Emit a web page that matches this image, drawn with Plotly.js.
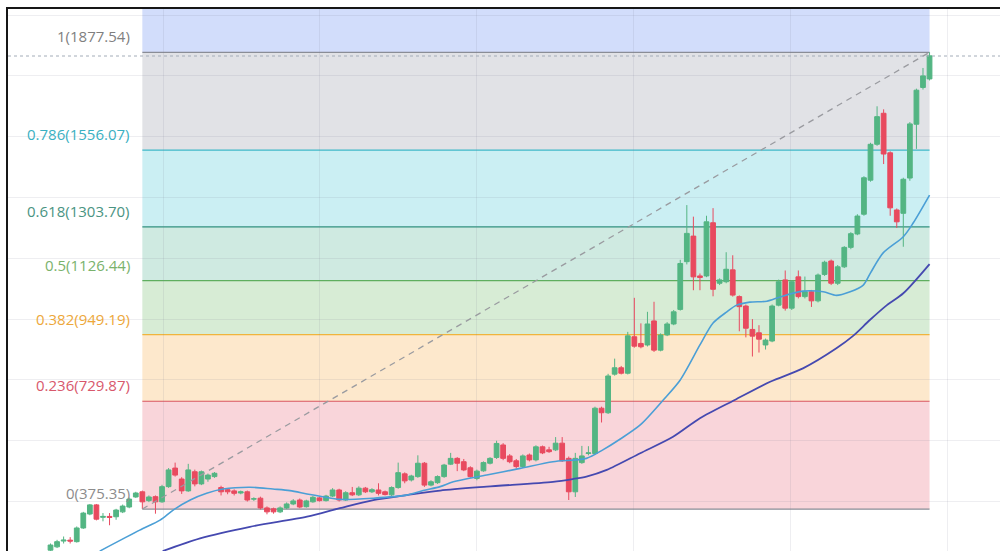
<!DOCTYPE html>
<html>
<head>
<meta charset="utf-8">
<script src="https://cdn.plot.ly/plotly-3.0.1.min.js"></script>
<style>
html,body{margin:0;padding:0;background:#fff;}
#chart{width:1000px;height:551px;}
</style>
</head>
<body>
<div id="chart"></div>
<script>
// ---- candle data (index = bar number) ----
const opens = [240,251,270,273,268,313,359,389,348,351,350,366,382,415,432,403,416,399,449,510,
474,435,498,458,474,482,446,439,435,428,432,408,411,379,376,366,379,392,405,383,
399,412,403,418,438,405,429,422,444,432,438,432,422,446,491,471,482,526,454,462,
482,523,542,531,511,476,501,526,545,586,550,534,515,553,537,580,570,570,592,542,
432,528,558,558,707,692,819,840,822,942,920,915,994,898,948,984,1032,1189,1273,1142,
1142,1317,1118,1123,1162,1074,1043,966,955,915,928,1046,1129,1036,1139,1074,1090,1060,1147,1191,
1118,1172,1236,1280,1345,1457,1575,1677,1547,1359,1348,1464,1641,1762,1790];
const highs = [262,274,285,283,318,366,392,392,362,362,376,390,413,432,436,420,420,455,510,528,
480,524,505,502,492,497,452,444,440,436,436,414,416,384,380,384,397,408,410,406,
418,416,422,444,442,434,448,450,448,444,460,436,450,528,496,488,552,530,470,486,
524,560,546,540,516,505,532,546,600,592,556,540,555,558,585,584,580,612,612,548,
560,583,582,712,712,820,870,846,958,1070,986,1024,1057,953,990,1030,1195,1375,1337,1150,
1340,1365,1134,1220,1210,1078,1048,1000,980,936,1048,1130,1160,1128,1160,1140,1096,1150,1192,1196,
1178,1240,1286,1345,1470,1580,1700,1690,1552,1364,1465,1648,1758,1826,1877.54];
const lows = [236,247,262,262,265,310,355,338,335,322,340,362,378,412,375.35,398,360,396,445,482,
425,432,450,454,465,478,420,424,420,424,400,402,374,358,360,362,375,388,378,380,
396,400,400,415,400,402,418,418,428,428,420,420,418,442,460,466,478,448,450,458,
478,520,500,500,478,470,498,522,540,536,526,508,510,532,532,556,560,566,530,405,
415,524,552,554,660,688,814,818,818,906,904,910,892,894,944,980,1028,1180,1095,1095,
1138,1075,1112,1118,1074,960,940,877,890,900,924,1042,1028,1030,1068,1068,1040,1055,1142,1112,
1112,1168,1230,1276,1340,1452,1570,1510,1340,1300,1238,1455,1560,1755,1785];
const closes = [257,268,273,270,313,362,389,342,351,348,372,385,408,428,399,415,399,449,504,487,
435,504,458,498,487,493,432,432,427,432,405,409,379,366,366,379,392,402,382,402,
414,403,418,438,405,429,422,444,432,439,427,423,446,495,468,484,526,454,465,482,
520,542,526,504,482,500,528,542,591,542,531,515,550,537,580,560,564,592,534,432,
542,550,560,707,692,813,840,822,945,911,909,984,898,948,984,1024,1183,1282,1139,1137,
1320,1098,1129,1164,1079,1041,970,944,934,931,1043,1123,1036,1123,1074,1090,1060,1145,1187,1118,
1172,1236,1281,1339,1465,1575,1666,1543,1366,1320,1460,1642,1753,1800,1866];

// ---- moving averages (bar index, value) ----
const maFastX = [7.5,13.6,16.7,18.7,21.3,23.8,26.3,30.4,33.9,36.5,39.1,41.5,44.1,49.2,54.3,56.8,59.4,61.4,66.5,71.6,
76.6,81.7,84.2,86.8,89.9,93.4,96.0,99.0,101.0,103.1,104.6,106.6,109.2,111.2,114.7,117.8,119.8,121.9,123.9,125.0,
126.9,130.0,131.5,134.0];
const maFastY = [237,306,339,372,405,427,441,447,441,436,425,416,407,411,421,436,449,465,487,509,
531,542,570,605,652,734,800,915,987,1024,1046,1056,1059,1073,1092,1090,1078,1090,1112,1152,
1217,1271,1316,1408];
const maSlowX = [17.1,22.8,30.4,39.1,44.1,49.2,54.3,59.4,66.5,76.6,79.6,81.7,84.8,89.9,94.9,99.0,104.3,109.7,114.7,119.8,
122.3,124.9,127.5,130.0,134.0];
const maSlowY = [237,279,317,350,378,405,421,436,449,465,474,482,504,559,613,674,734,794,838,904,
944,997,1046,1085,1181];

// ---- Fibonacci retracement ----
const fibLevels = [0, 0.236, 0.382, 0.5, 0.618, 0.786, 1];
const fibPrices = [375.35, 729.87, 949.19, 1126.44, 1303.70, 1556.07, 1877.54];
const fibLabels = ["0(375.35)","0.236(729.87)","0.382(949.19)","0.5(1126.44)","0.618(1303.70)","0.786(1556.07)","1(1877.54)"];
const fibStart = 14, fibEnd = 134;
const lastPrice = 1865.4;

const lineColors = ['#8a8d96','#d9535e','#f0b43c','#5fae5f','#2f8f7f','#3fb8c8','#8a8d96'];
const textColors = ['#8c8c8c','#d8586c','#eda73a','#7ab26c','#4a9482','#3ab0c2','#7f7f7f'];
const zoneColors = ['#f9d5da','#fde8cc','#d7ecd5','#cfeae1','#cbeff3','#e1e2e6'];
const topZoneColor = '#d2ddfb';

const idx = opens.map((_, i) => i);

const shapes = [];
for (let k = 0; k < fibPrices.length - 1; k++) {
  shapes.push({type:'rect', xref:'x', yref:'y', x0:fibStart, x1:fibEnd, y0:fibPrices[k], y1:fibPrices[k+1],
    fillcolor:zoneColors[k], line:{width:0}, layer:'below'});
}
shapes.push({type:'rect', xref:'x', yref:'y', x0:fibStart, x1:fibEnd, y0:fibPrices[6], y1:3000,
  fillcolor:topZoneColor, line:{width:0}, layer:'below'});
for (let k = 0; k < fibPrices.length; k++) {
  shapes.push({type:'line', xref:'x', yref:'y', x0:fibStart, x1:fibEnd, y0:fibPrices[k], y1:fibPrices[k],
    line:{color:lineColors[k], width:1.2}, layer:'below'});
}
shapes.push({type:'line', xref:'paper', yref:'y', x0:0, x1:1, y0:lastPrice, y1:lastPrice,
  line:{color:'#a3acb8', width:1, dash:'dot'}, layer:'above'});

const annotations = fibLabels.map((t, k) => ({
  xref:'paper', yref:'y', x:0.1251, y:fibPrices[k], yshift:16, xanchor:'right', yanchor:'middle',
  text:t, showarrow:false, font:{family:'Open Sans, sans-serif', size:15, color:textColors[k]}
}));

const traces = [
  {type:'scatter', mode:'lines', x:[fibStart, fibEnd], y:[fibPrices[0], fibPrices[6]],
   line:{color:'#9a9ba0', width:1.3, dash:'6px,5px'}, hoverinfo:'skip'},
  {type:'scatter', mode:'lines', x:maSlowX, y:maSlowY, line:{color:'#4549b0', width:1.8, shape:'spline', smoothing:0.8}, hoverinfo:'skip'},
  {type:'scatter', mode:'lines', x:maFastX, y:maFastY, line:{color:'#4b9fd6', width:1.6, shape:'spline', smoothing:0.8}, hoverinfo:'skip'},
  {type:'candlestick', x:idx, open:opens, high:highs, low:lows, close:closes,
   increasing:{line:{color:'#53b583', width:1}, fillcolor:'#53b583'},
   decreasing:{line:{color:'#e84a5f', width:1}, fillcolor:'#e84a5f'},
   whiskerwidth:0, hoverinfo:'skip'}
];

const layout = {
  width:1000, height:551,
  margin:{l:8, r:0, t:9, b:0, pad:0},
  paper_bgcolor:'#ffffff', plot_bgcolor:'#ffffff',
  showlegend:false,
  boxgap:0.15, boxgroupgap:0.15,
  xaxis:{range:[-6.479, 144.74], side:'top', showline:true, linecolor:'#161616', linewidth:2,
    showgrid:true, gridcolor:'rgba(120,125,150,0.13)', gridwidth:1, tickmode:'linear', tick0:17.15, dtick:23.93,
    showticklabels:false, ticks:'', zeroline:false, rangeslider:{visible:false}, fixedrange:true},
  yaxis:{range:[237.3, 2020], showline:true, linecolor:'#161616', linewidth:2,
    showgrid:true, gridcolor:'rgba(120,125,150,0.13)', gridwidth:1, tickmode:'linear', tick0:0, dtick:200,
    showticklabels:false, ticks:'', zeroline:false, fixedrange:true},
  shapes:shapes,
  annotations:annotations
};

Plotly.newPlot('chart', traces, layout, {staticPlot:true, displayModeBar:false});
</script>
</body>
</html>
